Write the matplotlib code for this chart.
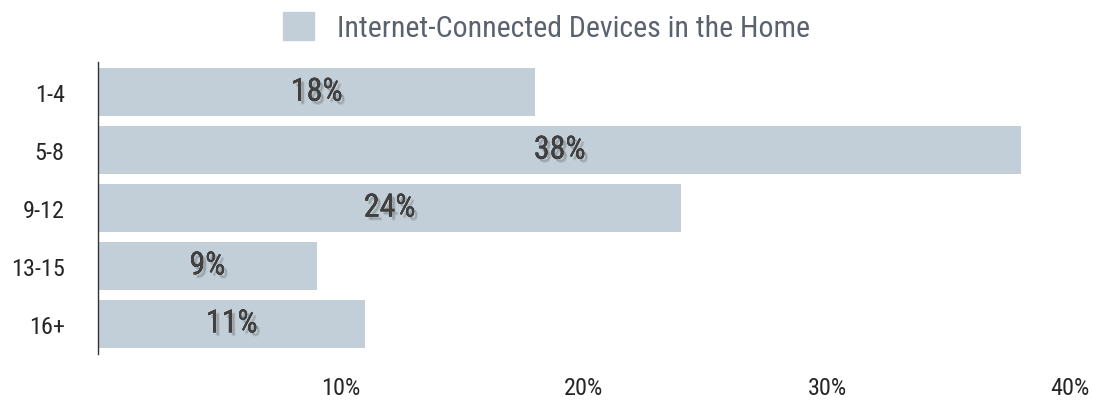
import matplotlib.pyplot as plt
import matplotlib.patheffects as pe
from matplotlib.patches import Patch

categories = ["1-4", "5-8", "9-12", "13-15", "16+"]
shares = [18, 38, 24, 9, 11]
xticks = [10, 20, 30, 40]
series_name = "Internet-Connected Devices in the Home"

FONT = ["Liberation Sans Narrow", "Roboto Condensed", "Noto Sans", "DejaVu Sans"]
BAR = "#c3cfd8"
plt.rcParams["font.stretch"] = "condensed"

fig = plt.figure(figsize=(10.93, 4.02), dpi=100)
ax = fig.add_axes([0.0897, 0.117, 0.8893, 0.726])

ypos = list(range(len(categories)))
ax.barh(ypos, shares, height=0.82, color=BAR)
ax.set_ylim(4.52, -0.52)
ax.set_xlim(0, 40)

# soft drop shadow, offset down-right so the glyphs stay thin
shadow = [pe.withSimplePatchShadow(offset=o, shadow_rgbFace="#555555", alpha=a)
          for o, a in [((2.0, -2.0), 0.22), ((2.8, -2.6), 0.12), ((2.2, -3.0), 0.08)]]
shadow.append(pe.Normal())
for y, v in zip(ypos, shares):
    ax.text(v / 2, y, f"{v}%", ha="center", va="center", fontsize=23,
            color="#404040", family=FONT, stretch="condensed", path_effects=shadow)

ax.set_yticks(ypos)
ax.set_yticklabels(categories, family=FONT, stretch="condensed", fontsize=17.5, color="#262626")
ax.set_xticks(xticks)
ax.set_xticklabels([f"{t}%" for t in xticks], family=FONT, stretch="condensed",
                   fontsize=17.5, color="#262626")
ax.tick_params(length=0)
ax.tick_params(axis="y", pad=24)
ax.tick_params(axis="x", pad=16)
for s in ["top", "right", "bottom"]:
    ax.spines[s].set_visible(False)
ax.spines["left"].set_color("#333333")
ax.spines["left"].set_linewidth(1.0)

leg = fig.legend(handles=[Patch(color=BAR, label=series_name)], loc="upper center",
                 bbox_to_anchor=(0.5, 1.035), frameon=False, handlelength=1.07, handleheight=1.07,
                 handletextpad=0.77, prop={"family": FONT, "stretch": "condensed", "size": 21.5})
for t in leg.get_texts():
    t.set_color("#5a6270")

fig.savefig("out.png", dpi=100)
